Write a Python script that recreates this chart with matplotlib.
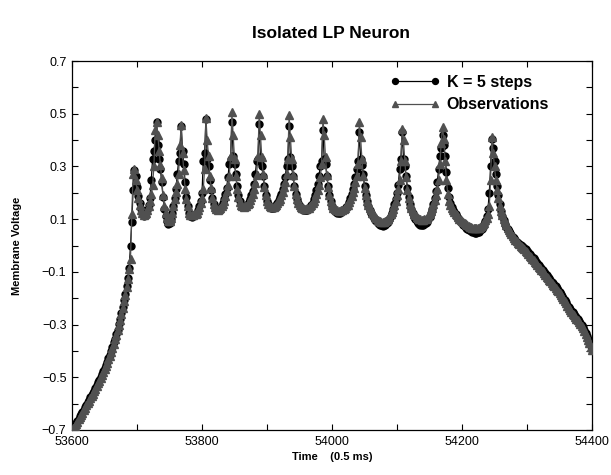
import numpy as np
import matplotlib
matplotlib.use("Agg")
import matplotlib.pyplot as plt
from matplotlib.ticker import MultipleLocator, FuncFormatter

plt.rcParams['font.family'] = ['Liberation Sans', 'DejaVu Sans']

# time axis (units of 0.5 ms), one sample every 2 units
t_start, t_end, t_step = 53600, 54400, 2
time = np.arange(t_start, t_end + 1, t_step)

observations = [
    -0.700, -0.692, -0.684, -0.676, -0.668, -0.659, -0.651, -0.642, -0.634, -0.625,
    -0.616, -0.607, -0.598, -0.589, -0.580, -0.571, -0.562, -0.553, -0.543, -0.533,
    -0.523, -0.513, -0.502, -0.491, -0.480, -0.468, -0.456, -0.444, -0.431, -0.418,
    -0.403, -0.388, -0.372, -0.356, -0.339, -0.321, -0.302, -0.282, -0.260, -0.237,
    -0.212, -0.186, -0.158, -0.126, -0.090, -0.050, 0.120, 0.270, 0.290, 0.250,
    0.210, 0.180, 0.155, 0.136, 0.124, 0.117, 0.118, 0.124, 0.135, 0.150,
    0.170, 0.195, 0.228, 0.300, 0.440, 0.470, 0.420, 0.360, 0.305, 0.255,
    0.190, 0.150, 0.122, 0.104, 0.093, 0.094, 0.105, 0.125, 0.148, 0.175,
    0.203, 0.235, 0.272, 0.380, 0.457, 0.350, 0.285, 0.215, 0.178, 0.148,
    0.125, 0.116, 0.115, 0.116, 0.118, 0.121, 0.125, 0.133, 0.145, 0.160,
    0.180, 0.215, 0.290, 0.484, 0.400, 0.340, 0.265, 0.220, 0.182, 0.158,
    0.145, 0.138, 0.136, 0.137, 0.141, 0.148, 0.158, 0.170, 0.186, 0.205,
    0.230, 0.265, 0.340, 0.505, 0.420, 0.330, 0.265, 0.215, 0.185, 0.166,
    0.155, 0.149, 0.147, 0.148, 0.151, 0.156, 0.163, 0.172, 0.183, 0.197,
    0.214, 0.236, 0.268, 0.340, 0.500, 0.420, 0.335, 0.270, 0.222, 0.190,
    0.170, 0.158, 0.150, 0.146, 0.145, 0.146, 0.149, 0.154, 0.160, 0.168,
    0.178, 0.190, 0.204, 0.221, 0.242, 0.270, 0.330, 0.495, 0.410, 0.330,
    0.268, 0.225, 0.195, 0.175, 0.162, 0.153, 0.147, 0.143, 0.141, 0.140,
    0.140, 0.141, 0.144, 0.148, 0.154, 0.161, 0.170, 0.181, 0.194, 0.210,
    0.230, 0.258, 0.310, 0.480, 0.420, 0.335, 0.268, 0.222, 0.190, 0.168,
    0.153, 0.144, 0.138, 0.135, 0.133, 0.132, 0.132, 0.133, 0.135, 0.138,
    0.142, 0.148, 0.155, 0.164, 0.175, 0.188, 0.203, 0.220, 0.240, 0.265,
    0.310, 0.468, 0.410, 0.330, 0.265, 0.220, 0.190, 0.170, 0.155, 0.143,
    0.133, 0.124, 0.116, 0.109, 0.103, 0.098, 0.094, 0.092, 0.090, 0.090,
    0.091, 0.093, 0.097, 0.102, 0.109, 0.118, 0.128, 0.140, 0.154, 0.170,
    0.190, 0.215, 0.250, 0.320, 0.443, 0.400, 0.320, 0.258, 0.212, 0.180,
    0.158, 0.142, 0.130, 0.121, 0.114, 0.108, 0.104, 0.101, 0.099, 0.098,
    0.098, 0.099, 0.101, 0.105, 0.111, 0.120, 0.131, 0.144, 0.158, 0.174,
    0.192, 0.215, 0.250, 0.310, 0.390, 0.450, 0.405, 0.320, 0.250, 0.195,
    0.168, 0.152, 0.141, 0.133, 0.126, 0.120, 0.114, 0.108, 0.102, 0.097,
    0.092, 0.088, 0.084, 0.080, 0.077, 0.074, 0.071, 0.069, 0.067, 0.066,
    0.065, 0.065, 0.066, 0.068, 0.071, 0.075, 0.080, 0.087, 0.095, 0.105,
    0.120, 0.150, 0.250, 0.413, 0.350, 0.300, 0.250, 0.210, 0.180, 0.150,
    0.130, 0.115, 0.100, 0.088, 0.077, 0.067, 0.058, 0.050, 0.042, 0.035,
    0.028, 0.022, 0.016, 0.010, 0.005, 0.000, -0.004, -0.008, -0.014, -0.020,
    -0.026, -0.032, -0.038, -0.044, -0.050, -0.056, -0.062, -0.068, -0.074, -0.080,
    -0.086, -0.092, -0.098, -0.105, -0.111, -0.118, -0.124, -0.130, -0.136, -0.142,
    -0.148, -0.154, -0.160, -0.167, -0.173, -0.180, -0.188, -0.196, -0.204, -0.212,
    -0.220, -0.229, -0.238, -0.245, -0.252, -0.258, -0.264, -0.271, -0.277, -0.284,
    -0.290, -0.297, -0.305, -0.314, -0.324, -0.335, -0.346, -0.358, -0.371, -0.385,
    -0.398,
]

k5_steps = [
    -0.698, -0.690, -0.680, -0.674, -0.664, -0.657, -0.647, -0.640, -0.630, -0.623,
    -0.612, -0.605, -0.594, -0.587, -0.576, -0.569, -0.558, -0.551, -0.539, -0.531,
    -0.519, -0.511, -0.498, -0.489, -0.476, -0.466, -0.452, -0.442, -0.427, -0.416,
    -0.399, -0.386, -0.368, -0.354, -0.335, -0.319, -0.298, -0.280, -0.256, -0.235,
    -0.208, -0.184, -0.154, -0.124, -0.086, 0.000, 0.090, 0.210, 0.285, 0.262,
    0.222, 0.188, 0.160, 0.138, 0.122, 0.112, 0.115, 0.122, 0.134, 0.152,
    0.180, 0.250, 0.330, 0.360, 0.400, 0.468, 0.380, 0.330, 0.290, 0.240,
    0.185, 0.140, 0.112, 0.094, 0.082, 0.085, 0.100, 0.122, 0.150, 0.180,
    0.215, 0.270, 0.320, 0.350, 0.455, 0.360, 0.310, 0.240, 0.185, 0.150,
    0.125, 0.113, 0.110, 0.112, 0.115, 0.119, 0.124, 0.134, 0.148, 0.168,
    0.200, 0.320, 0.350, 0.480, 0.330, 0.300, 0.250, 0.210, 0.180, 0.157,
    0.143, 0.136, 0.134, 0.136, 0.140, 0.148, 0.160, 0.175, 0.195, 0.220,
    0.260, 0.310, 0.330, 0.470, 0.340, 0.310, 0.270, 0.225, 0.190, 0.168,
    0.155, 0.148, 0.146, 0.147, 0.150, 0.156, 0.165, 0.176, 0.190, 0.208,
    0.232, 0.270, 0.320, 0.330, 0.460, 0.330, 0.300, 0.265, 0.225, 0.192,
    0.170, 0.157, 0.149, 0.144, 0.142, 0.143, 0.147, 0.153, 0.161, 0.171,
    0.183, 0.197, 0.213, 0.232, 0.260, 0.300, 0.330, 0.455, 0.335, 0.300,
    0.262, 0.226, 0.196, 0.175, 0.160, 0.150, 0.143, 0.138, 0.135, 0.134,
    0.134, 0.136, 0.140, 0.146, 0.154, 0.163, 0.175, 0.190, 0.210, 0.235,
    0.265, 0.300, 0.320, 0.440, 0.330, 0.310, 0.265, 0.225, 0.192, 0.168,
    0.151, 0.140, 0.132, 0.128, 0.125, 0.124, 0.124, 0.126, 0.129, 0.134,
    0.139, 0.146, 0.155, 0.166, 0.180, 0.196, 0.214, 0.234, 0.258, 0.290,
    0.320, 0.430, 0.330, 0.305, 0.270, 0.226, 0.192, 0.168, 0.150, 0.136,
    0.124, 0.114, 0.106, 0.098, 0.092, 0.086, 0.082, 0.079, 0.076, 0.075,
    0.076, 0.079, 0.084, 0.091, 0.100, 0.111, 0.124, 0.139, 0.156, 0.176,
    0.200, 0.230, 0.290, 0.330, 0.430, 0.330, 0.300, 0.262, 0.218, 0.184,
    0.158, 0.138, 0.122, 0.110, 0.100, 0.092, 0.086, 0.082, 0.079, 0.078,
    0.078, 0.080, 0.084, 0.090, 0.099, 0.110, 0.124, 0.140, 0.158, 0.180,
    0.205, 0.240, 0.290, 0.340, 0.370, 0.420, 0.380, 0.340, 0.280, 0.220,
    0.185, 0.162, 0.146, 0.135, 0.126, 0.118, 0.110, 0.103, 0.096, 0.090,
    0.084, 0.078, 0.073, 0.068, 0.064, 0.060, 0.057, 0.054, 0.052, 0.050,
    0.049, 0.049, 0.050, 0.053, 0.057, 0.063, 0.071, 0.081, 0.094, 0.112,
    0.140, 0.200, 0.300, 0.405, 0.370, 0.320, 0.270, 0.225, 0.190, 0.158,
    0.132, 0.112, 0.096, 0.082, 0.070, 0.062, 0.054, 0.047, 0.040, 0.033,
    0.027, 0.021, 0.015, 0.010, 0.005, 0.001, -0.003, -0.006, -0.010, -0.015,
    -0.020, -0.026, -0.032, -0.038, -0.043, -0.049, -0.055, -0.061, -0.067, -0.073,
    -0.080, -0.086, -0.092, -0.099, -0.105, -0.112, -0.118, -0.124, -0.131, -0.137,
    -0.143, -0.149, -0.155, -0.162, -0.168, -0.175, -0.183, -0.191, -0.199, -0.207,
    -0.215, -0.224, -0.233, -0.241, -0.248, -0.254, -0.260, -0.267, -0.273, -0.280,
    -0.287, -0.294, -0.302, -0.311, -0.321, -0.332, -0.343, -0.356, -0.369, -0.383,
    -0.396,
]

x_label_values = [53600, 53800, 54000, 54200, 54400]
y_label_values = [-0.7, -0.5, -0.3, -0.1, 0.1, 0.3, 0.5, 0.7]

fig = plt.figure(figsize=(6.11, 4.75), dpi=100)
ax = fig.add_axes([72 / 611, 1 - 430 / 475, 520 / 611, 369 / 475])

gray = '#505050'
ax.plot(time, k5_steps, '-', color='black', lw=0.9, marker='o', ms=5.0,
        mfc='black', mec='black', label='K = 5 steps', zorder=2)
ax.plot(time, observations, '-', color=gray, lw=0.9, marker='^', ms=5.2,
        mfc=gray, mec=gray, label='Observations', zorder=3)

ax.set_xlim(53600, 54400)
ax.set_ylim(-0.7, 0.7)

ax.xaxis.set_major_locator(MultipleLocator(100))
ax.yaxis.set_major_locator(MultipleLocator(0.1))


def xfmt(v, pos):
    for lv in x_label_values:
        if abs(v - lv) < 1e-6:
            return f"{int(round(v))}"
    return ""


def yfmt(v, pos):
    for lv in y_label_values:
        if abs(v - lv) < 1e-6:
            return f"{v:.1f}".replace('-', '\u2212')
    return ""


ax.xaxis.set_major_formatter(FuncFormatter(xfmt))
ax.yaxis.set_major_formatter(FuncFormatter(yfmt))
ax.tick_params(direction='in', length=4, width=0.8, top=True, right=True,
               labelsize=9, pad=4)
for s in ax.spines.values():
    s.set_linewidth(0.9)

ax.set_xlabel('Time    (0.5 ms)', fontsize=8, fontweight='bold', labelpad=3)
ax.set_ylabel('Membrane Voltage', fontsize=8, fontweight='bold', labelpad=14)

fig.text(331 / 611, 1 - 33 / 475, 'Isolated LP Neuron', ha='center', va='center',
         fontsize=12.5, fontweight='bold')

leg = ax.legend(loc='upper left', bbox_to_anchor=((390 - 72) / 520, 1 - (75 - 61) / 369),
                frameon=False, borderaxespad=0, borderpad=0,
                numpoints=2, handlelength=3.1, handletextpad=0.45, labelspacing=0.45,
                prop={'weight': 'bold', 'size': 11.5}, markerscale=0.85)

fig.savefig('out.png', dpi=100)
